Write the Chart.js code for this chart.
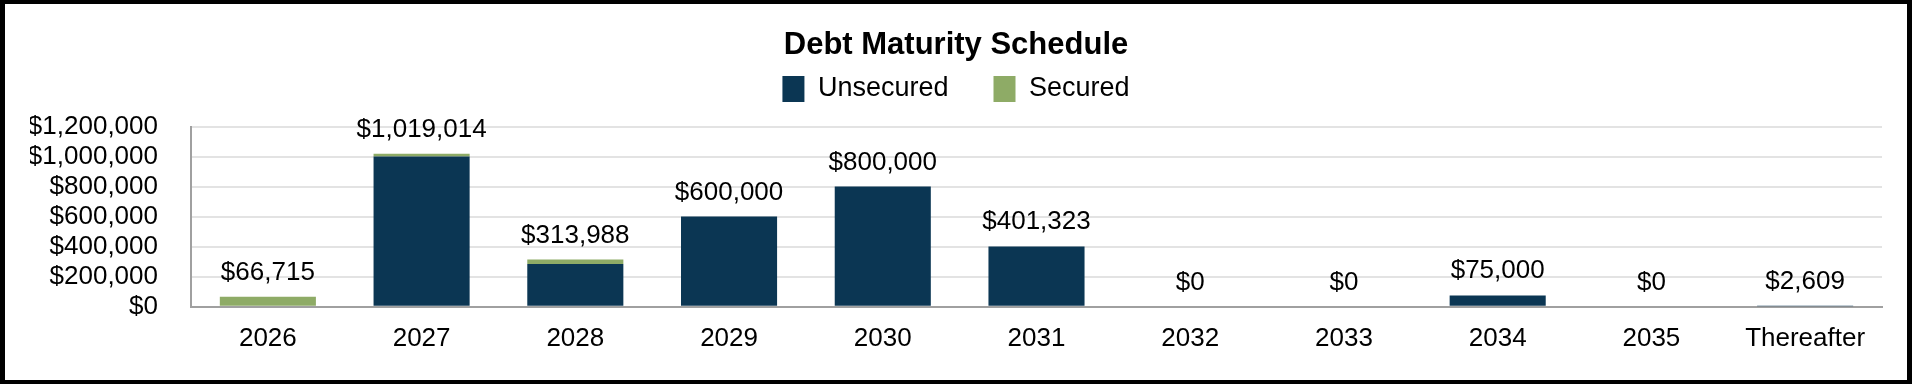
<!DOCTYPE html>
<html>
<head>
<meta charset="utf-8">
<script src="https://cdn.jsdelivr.net/npm/chart.js@4"></script>
<style>
  html, body { margin: 0; padding: 0; background: #fff; }
  #box {
    width: 1912px; height: 384px;
    box-sizing: border-box;
    border-style: solid; border-color: #000;
    border-width: 4px 5px;
    position: relative;
  }
</style>
</head>
<body>
<div id="box"><canvas id="debtChart"></canvas></div>
<script>
const years = ["2026", "2027", "2028", "2029", "2030", "2031", "2032", "2033", "2034", "2035", "Thereafter"];
const unsecured = [0, 1000000, 285000, 600000, 800000, 401323, 0, 0, 75000, 0, 2609];
const secured = [66715, 19014, 28988, 0, 0, 0, 0, 0, 0, 0, 0];
const yTicks = [0, 200000, 400000, 600000, 800000, 1000000, 1200000];

const FONT = "'Liberation Sans', Arial, sans-serif";

function money(v) {
    return "$" + Number(v).toLocaleString("en-US");
}

// total label above each stack
const totalsPlugin = {
    id: "totals",
    afterDatasetsDraw(chart) {
        const ctx = chart.ctx;
        const x = chart.scales.x;
        const y = chart.scales.y;
        ctx.save();
        ctx.font = "26px " + FONT;
        ctx.fillStyle = "#000";
        ctx.textAlign = "center";
        ctx.textBaseline = "alphabetic";
        years.forEach((yr, i) => {
            const total = unsecured[i] + secured[i];
            ctx.fillText(money(total), x.getPixelForValue(i), y.getPixelForValue(total) - 17);
        });
        ctx.restore();
    }
};

// extra room under the legend
const legendGap = {
    id: "legendGap",
    beforeInit(chart) {
        const fit = chart.legend.fit;
        chart.legend.fit = function() {
            fit.bind(chart.legend)();
            this.height += 14;
        };
    }
};

new Chart(document.getElementById("debtChart"), {
    type: "bar",
    data: {
        labels: years,
        datasets: [
            { label: "Unsecured", data: unsecured, backgroundColor: "#0b3653" },
            { label: "Secured", data: secured, backgroundColor: "#8eab66" }
        ]
    },
    plugins: [totalsPlugin, legendGap],
    options: {
        responsive: true,
        maintainAspectRatio: false,
        animation: false,
        layout: { padding: { top: 0, right: 25, bottom: 0, left: 25 } },
        datasets: { bar: { categoryPercentage: 1, barPercentage: 0.625 } },
        plugins: {
            title: {
                display: true,
                text: "Debt Maturity Schedule",
                color: "#000",
                font: { family: FONT, size: 31, weight: "bold" },
                padding: { top: 22.5, bottom: -33.2 }
            },
            legend: {
                display: true,
                labels: {
                    color: "#000",
                    font: { family: FONT, size: 27 },
                    boxWidth: 22,
                    boxHeight: 26,
                    padding: 45
                }
            },
            tooltip: { enabled: false }
        },
        scales: {
            x: {
                stacked: true,
                grid: { display: false, drawTicks: false },
                border: { color: "#a0a0a0", width: 2 },
                ticks: { color: "#000", font: { family: FONT, size: 26 }, padding: 16.5 },
                afterFit(scale) { scale.height = 73.3; }
            },
            y: {
                stacked: true,
                min: 0,
                max: 1200000,
                afterBuildTicks(scale) { scale.ticks = yTicks.map(v => ({ value: v })); },
                grid: { color: "#e3e3e3", lineWidth: 2, drawTicks: false },
                border: { color: "#a0a0a0", width: 2 },
                ticks: {
                    color: "#000",
                    font: { family: FONT, size: 26 },
                    padding: 33,
                    autoSkip: false,
                    callback: v => money(v)
                },
                afterFit(scale) { scale.width = 161; }
            }
        }
    }
});
</script>
</body>
</html>
